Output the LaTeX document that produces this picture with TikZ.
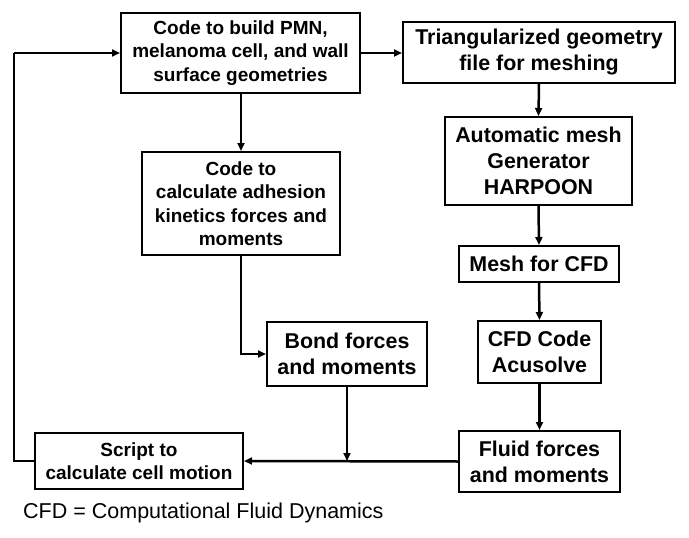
\documentclass[tikz,border=0pt]{standalone}
\usepackage{fontspec}
\setmainfont{Liberation Sans}
\usetikzlibrary{arrows.meta}
\begin{document}
\begin{tikzpicture}[x=1pt,y=-1pt,
  box/.style={draw=black,line width=2pt,inner sep=0pt,align=center,font=\bfseries},
  small/.style={font=\fontsize{19}{23.5}\selectfont\bfseries},
  big/.style={font=\fontsize{21.4}{26}\selectfont\bfseries},
  conn/.style={line width=2.5pt,-{Triangle[length=8pt,width=7pt]}},
  plain/.style={line width=2.5pt}]
\useasboundingbox (0,0) rectangle (689,538);
\node[box,small,minimum width=239pt,minimum height=80pt] (geo) at (240.5,53) {Code to build PMN,\\melanoma cell, and wall\\surface geometries};
\node[box,big,minimum width=272pt,minimum height=61pt] (tri) at (539,52.5) {Triangularized geometry\\file for meshing};
\node[box,big,minimum width=187pt,minimum height=88pt] (auto) at (538.5,161) {Automatic mesh\\Generator\\HARPOON};
\node[box,big,minimum width=160pt,minimum height=36pt] (mesh) at (539,264) {Mesh for CFD};
\node[box,big,minimum width=123pt,minimum height=62pt] (cfd) at (539.5,352) {CFD Code\\Acusolve};
\node[box,big,minimum width=161pt,minimum height=61pt] (fluid) at (539.5,461.5) {Fluid forces\\and moments};
\node[box,big,minimum width=160pt,minimum height=64pt] (bond) at (347,354) {Bond forces\\and moments};
\node[box,small,minimum width=198pt,minimum height=103pt] (calc) at (241,203.5) {Code to\\calculate adhesion\\kinetics forces and\\moments};
\node[box,small,minimum width=208pt,minimum height=56pt] (script) at (139,461) {Script to\\calculate cell motion};
\node[anchor=west,inner sep=0pt,font=\fontsize{21.5}{26}\selectfont] (note) at (23,513) {CFD = Computational Fluid Dynamics};
\coordinate (lb) at (14,461);
\coordinate (lt) at (14,53);
\coordinate (join) at (347,461);
\draw[conn] (geo.east) -- (geo.east -| tri.west);
\draw[conn] (tri.south) -- (auto.north);
\draw[conn] (auto.south) -- (mesh.north);
\draw[conn] (mesh.south) -- (cfd.north);
\draw[conn] (cfd.south) -- (fluid.north);
\draw[conn] (geo.south -| calc.north) -- (calc.north);
\draw[conn] (calc.south) |- (bond.west);
\draw[conn] (fluid.west) -- (script.east);
\draw[conn] (bond.south) -- (join);
\draw[plain] (script.west) -- (lb) -- (lt);
\draw[conn] (lt) -- (geo.west);
\end{tikzpicture}
\end{document}
